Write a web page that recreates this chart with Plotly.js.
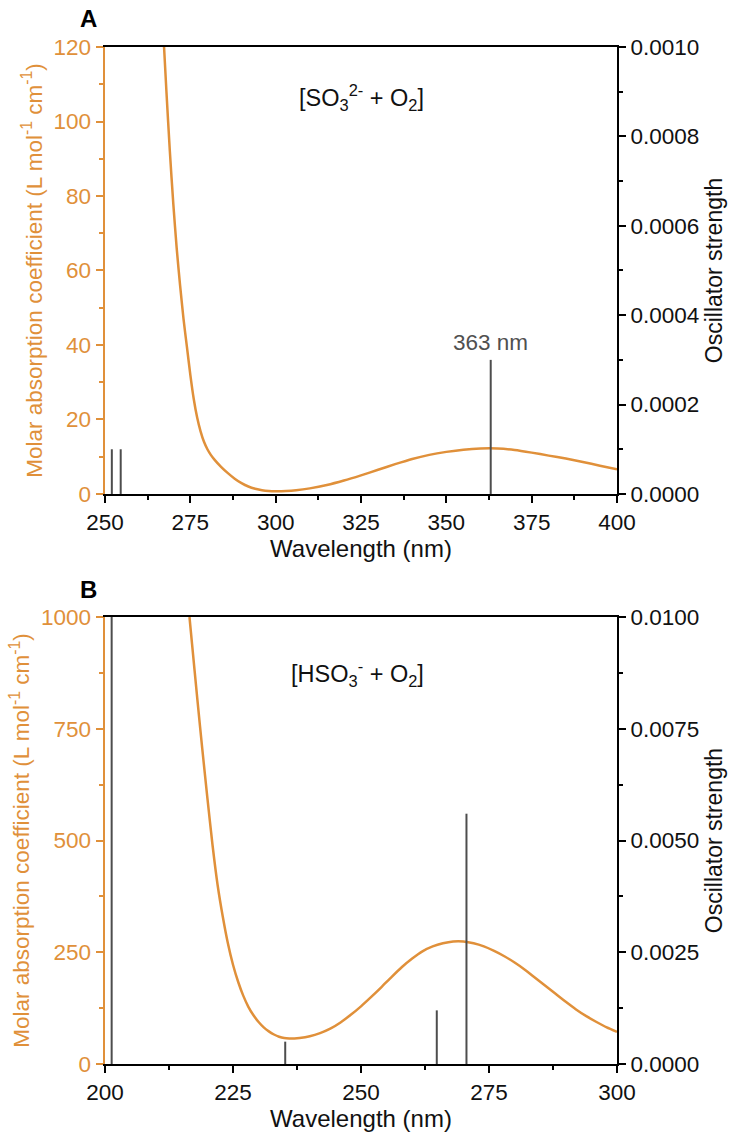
<!DOCTYPE html>
<html>
<head>
<meta charset="utf-8">
<script src="https://cdn.plot.ly/plotly-3.0.1.min.js"></script>
<style>html,body{margin:0;padding:0;background:#fff;}#chart{width:734px;height:1137px;}</style>
</head>
<body>
<div id="chart"></div>
<script>
// Panel A: [SO3^2- + O2]
const wavelengthA = [267.3, 268, 269, 270, 271, 272, 273, 274, 275, 276, 277, 278, 279, 280, 281, 282, 284, 286, 288, 290, 292, 294, 296, 298, 300, 303, 306, 310, 315, 320, 325, 330, 335, 340, 345, 350, 355, 360, 365, 370, 375, 380, 385, 390, 395, 400];
const absorptionA = [120, 108, 92, 78, 66, 56, 47, 39.5, 32, 25.5, 20.5, 16.8, 14.0, 12.0, 10.5, 9.3, 7.3, 5.6, 4.1, 2.9, 2.0, 1.4, 1.0, 0.8, 0.75, 0.8, 1.0, 1.5, 2.4, 3.6, 5.0, 6.5, 8.0, 9.4, 10.5, 11.3, 11.9, 12.2, 12.2, 11.8, 11.1, 10.3, 9.5, 8.6, 7.6, 6.6];
const stickWavelengthA = [252.0, 254.6, 363.0];
const stickStrengthA = [0.0001, 0.0001, 0.0003];

// Panel B: [HSO3^- + O2]
const wavelengthB = [216.5, 217, 218, 219, 220, 221, 222, 223, 224, 225, 226, 227, 228, 229, 230, 231, 232, 233, 234, 235, 236, 237, 238, 240, 242, 244, 246, 248, 250, 252, 254, 256, 258, 260, 262, 264, 266, 268, 270, 272, 274, 276, 278, 280, 282, 284, 286, 288, 290, 292, 294, 296, 298, 300];
const absorptionB = [1000, 940, 820, 705, 595, 490, 400, 330, 270, 222, 184, 153, 128, 109, 94, 82, 73, 66, 61, 58, 57, 57, 58, 62, 69, 79, 93, 110, 129, 150, 172, 195, 217, 236, 252, 263, 270, 274, 274, 270, 263, 253, 241, 227, 211, 193, 175, 157, 139, 122, 107, 94, 82, 72];
const stickWavelengthB = [201.3, 235.2, 264.8, 270.6];
const stickStrengthB = [0.012, 0.0005, 0.0012, 0.0056];

const ORANGE = '#E0903A';
const STICK = '#4d4d4d';
const FONT = 'Liberation Sans, Arial, sans-serif';

function sticks(wl, f) {
  const x = [], y = [];
  wl.forEach((w, i) => { x.push(w, w, null); y.push(0, f[i], null); });
  return {x, y};
}
const sA = sticks(stickWavelengthA, stickStrengthA);
const sB = sticks(stickWavelengthB, stickStrengthB);

const traces = [
  {x: wavelengthA, y: absorptionA, xaxis: 'x', yaxis: 'y', mode: 'lines',
   line: {color: ORANGE, width: 2.5, shape: 'spline', smoothing: 0.6}, hoverinfo: 'skip'},
  {x: sA.x, y: sA.y, xaxis: 'x', yaxis: 'y2', mode: 'lines',
   line: {color: STICK, width: 2}, hoverinfo: 'skip'},
  {x: wavelengthB, y: absorptionB, xaxis: 'x2', yaxis: 'y3', mode: 'lines',
   line: {color: ORANGE, width: 2.5, shape: 'spline', smoothing: 0.6}, hoverinfo: 'skip'},
  {x: sB.x, y: sB.y, xaxis: 'x2', yaxis: 'y4', mode: 'lines',
   line: {color: STICK, width: 2}, hoverinfo: 'skip'}
];

const TICK = 22.5;
const tickFont = {family: FONT, size: TICK, color: '#111'};
const orangeTick = {family: FONT, size: TICK, color: ORANGE};

function xAxis(range, anchor, dtick) {
  return {range: range, anchor: anchor, showgrid: false, zeroline: false,
    showline: true, linecolor: '#000', linewidth: 2, mirror: true,
    ticks: 'outside', ticklen: 7, tickwidth: 2, tickcolor: '#000',
    tick0: range[0], dtick: dtick, tickfont: tickFont,
    minor: {ticks: 'outside', ticklen: 4, tickwidth: 2, tickcolor: '#000', tick0: range[0], dtick: dtick / 2},
    title: {text: 'Wavelength (nm)', font: {family: FONT, size: 24, color: '#111'}, standoff: 6}};
}
function leftAxis(range, domain, anchor, dtick) {
  return {range: range, domain: domain, anchor: anchor, showgrid: false, zeroline: false,
    showline: true, linecolor: ORANGE, linewidth: 2.5,
    ticks: 'outside', ticklen: 7, tickwidth: 2, tickcolor: ORANGE,
    tick0: 0, dtick: dtick, tickfont: orangeTick,
    minor: {ticks: 'outside', ticklen: 4, tickwidth: 2, tickcolor: ORANGE, tick0: 0, dtick: dtick / 2},
    title: {text: 'Molar absorption coefficient (L mol<sup>-1</sup> cm<sup>-1</sup>)', font: {family: FONT, size: 22.5, color: ORANGE}, standoff: 5}};
}
function rightAxis(range, overlay, anchor, dtick, fmt) {
  return {range: range, overlaying: overlay, anchor: anchor, side: 'right', showgrid: false, zeroline: false,
    showline: true, linecolor: '#000', linewidth: 2,
    ticks: 'outside', ticklen: 7, tickwidth: 2, tickcolor: '#000',
    tick0: 0, dtick: dtick, tickformat: fmt, tickfont: tickFont,
    minor: {ticks: 'outside', ticklen: 4, tickwidth: 2, tickcolor: '#000', tick0: 0, dtick: dtick / 2},
    title: {text: 'Oscillator strength', font: {family: FONT, size: 23, color: '#111'}, standoff: 8}};
}

const domA = [0.5605, 1];
const domB = [0, 0.4395];

const layout = {
  width: 734, height: 1137,
  margin: {l: 105, r: 117, t: 47, b: 73},
  paper_bgcolor: '#fff', plot_bgcolor: '#fff',
  showlegend: false,
  xaxis: xAxis([250, 400], 'y', 25),
  yaxis: leftAxis([0, 120], domA, 'x', 20),
  yaxis2: rightAxis([0, 0.001], 'y', 'x', 0.0002, '.4f'),
  xaxis2: xAxis([200, 300], 'y3', 25),
  yaxis3: leftAxis([0, 1000], domB, 'x2', 250),
  yaxis4: rightAxis([0, 0.01], 'y3', 'x2', 0.0025, '.4f'),
  annotations: [
    {xref: 'x', yref: 'y', x: 325, y: 106.5, text: '[SO<sub>3</sub><sup>2-</sup> + O<sub>2</sub>]',
     showarrow: false, font: {family: FONT, size: 23.5, color: '#111'}},
    {xref: 'x', yref: 'y2', x: 363, y: 0.0003, yanchor: 'bottom', yshift: 3, text: '363 nm',
     showarrow: false, font: {family: FONT, size: 22.5, color: '#505050'}},
    {xref: 'x2', yref: 'y3', x: 249.3, y: 873, text: '[HSO<sub>3</sub><sup>-</sup> + O<sub>2</sub>]',
     showarrow: false, font: {family: FONT, size: 23.5, color: '#111'}},
    {xref: 'paper', yref: 'paper', x: -0.033, y: 1.0285, xanchor: 'center', yanchor: 'middle', text: '<b>A</b>', showarrow: false,
     font: {family: FONT, size: 24, color: '#000'}},
    {xref: 'paper', yref: 'paper', x: -0.033, y: 0.4666, xanchor: 'center', yanchor: 'middle', text: '<b>B</b>', showarrow: false,
     font: {family: FONT, size: 24, color: '#000'}}
  ]
};

Plotly.newPlot('chart', traces, layout, {displayModeBar: false, staticPlot: true});
</script>
</body>
</html>
